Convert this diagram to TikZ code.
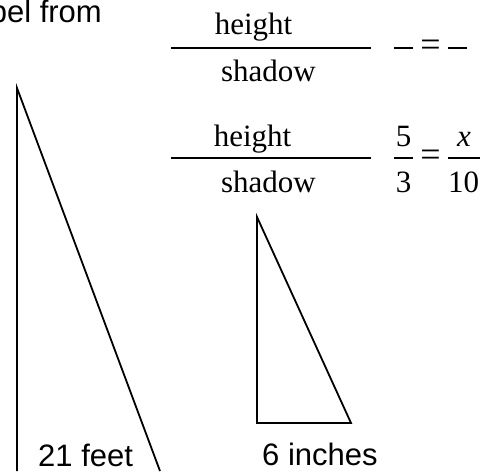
\documentclass[tikz,border=0pt]{standalone}
\usepackage{fontspec}
\setmainfont{Liberation Serif}
\newfontfamily\arialfont{Liberation Sans}
\begin{document}
\begin{tikzpicture}[x=1pt,y=1pt,
  serif/.style={inner sep=0pt, font=\fontsize{31}{31}\selectfont},
  eqsign/.style={inner sep=0pt, font=\fontsize{36}{36}\selectfont},
  sans/.style={inner sep=0pt, font=\arialfont\fontsize{31}{31}\selectfont},
  edge/.style={line width=1.8pt, line join=miter},
  bar/.style={line width=1.7pt}]
\useasboundingbox (0,0) rectangle (492,471);
% big triangle
\coordinate (A) at (17,383);
\coordinate (B) at (17,0);
\coordinate (C) at (160,0);
\draw[edge] (B) -- (A) -- (C);
% small triangle
\coordinate (D) at (257,254);
\coordinate (E) at (257,48);
\coordinate (F) at (351,48);
\draw[edge] (D) -- (E) -- (F) -- cycle;
% labels
\node[sans, anchor=base east] (top) at (102,448) {bel from};
\node[sans, anchor=base west] (feet) at (38,5) {21 feet};
\node[sans, anchor=base west] (inch) at (262,6) {6 inches};
% first ratio
\coordinate (b1l) at (171,423);
\coordinate (b1r) at (371,423);
\draw[bar] (b1l) -- (b1r);
\node[serif, anchor=base] (h1) at (253.5,436) {height};
\node[serif, anchor=base] (s1) at (268.5,389) {shadow};
% empty equation
\coordinate (d1l) at (394,423);
\coordinate (d1r) at (413,423);
\coordinate (d2l) at (448,423);
\coordinate (d2r) at (467,423);
\draw[bar] (d1l) -- (d1r);
\draw[bar] (d2l) -- (d2r);
\node[eqsign] (eq1) at (430.5,423) {=};
% second ratio
\coordinate (b2l) at (171,313);
\coordinate (b2r) at (371,313);
\draw[bar] (b2l) -- (b2r);
\node[serif, anchor=base] (h2) at (252.5,324) {height};
\node[serif, anchor=base] (s2) at (268.5,278) {shadow};
% numeric equation
\coordinate (f1l) at (394,313);
\coordinate (f1r) at (413,313);
\coordinate (f2l) at (448,313);
\coordinate (f2r) at (480,313);
\draw[bar] (f1l) -- (f1r);
\draw[bar] (f2l) -- (f2r);
\node[serif, anchor=base] (n5) at (403.5,324) {5};
\node[serif, anchor=base] (n3) at (403.5,278) {3};
\node[eqsign] (eq2) at (430.5,313) {=};
\node[serif, anchor=base] (nx) at (464,324) {\textit{x}};
\node[serif, anchor=base] (n10) at (463.5,278) {10};
\end{tikzpicture}
\end{document}
